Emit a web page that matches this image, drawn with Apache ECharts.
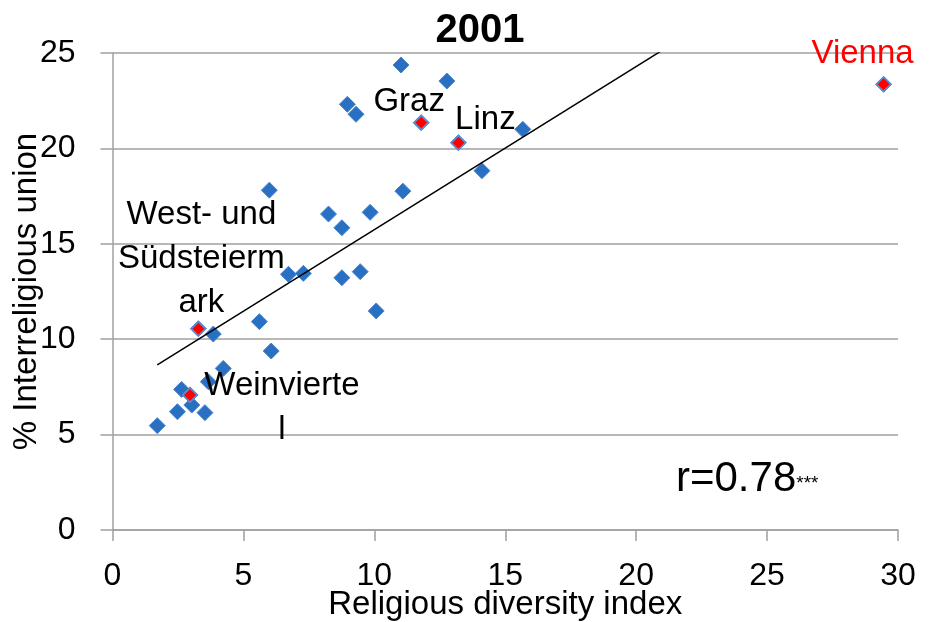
<!DOCTYPE html>
<html>
<head>
<meta charset="utf-8">
<script src="https://cdn.jsdelivr.net/npm/echarts@6/dist/echarts.min.js"></script>
<style>
  html, body { margin: 0; padding: 0; background: #fff; }
  #main { width: 934px; height: 622px; }
</style>
</head>
<body>
<div id="main"></div>
<script>
  // districts (blue diamonds)
  var diversity = [1.71, 2.48, 3.53, 3.03, 2.64, 3.66, 4.23, 3.85, 5.61, 6.06, 6.72, 7.29, 8.76,
                   9.46, 10.07, 8.76, 11.02, 12.77, 8.97, 9.30, 15.67, 14.11, 11.09, 5.99, 9.84, 8.25];
  var interUnion = [5.47, 6.20, 6.15, 6.55, 7.37, 7.77, 8.47, 10.27, 10.92, 9.38, 13.40, 13.45, 13.22,
                    13.54, 11.48, 15.84, 24.37, 23.53, 22.31, 21.79, 21.00, 18.83, 17.76, 17.81, 16.65, 16.56];

  // named places (red diamonds)
  var placeNames = ['Weinvierte\nl', 'West- und\nSüdsteierm\nark', 'Graz', 'Linz', 'Vienna'];
  var placeDiversity = [2.96, 3.28, 11.79, 13.21, 29.45];
  var placeUnion = [7.08, 10.55, 21.35, 20.30, 23.36];

  // linear trend
  var trendSlope = 0.855;
  var trendIntercept = 7.19;

  var xTicks = [0, 5, 10, 15, 20, 25, 30];
  var yTicks = [0, 5, 10, 15, 20, 25];

  var FONT = '"Liberation Sans", Arial, sans-serif';
  var BLUE = '#2a70c2';
  var GREY = '#a0a0a0';

  var labelOffsets = [[92, 13], [3, -70], [-12, -21], [27, -23], [-21, -30]];
  var labelColors = ['#000000', '#000000', '#000000', '#000000', '#ff0000'];

  var allX = diversity.concat(placeDiversity);
  var allY = interUnion.concat(placeUnion);

  var bluePts = [];
  for (var i = 0; i < allX.length; i++) {
    bluePts.push([allX[i], allY[i]]);
  }

  var redPts = [];
  for (var j = 0; j < placeNames.length; j++) {
    redPts.push({
      name: placeNames[j],
      value: [placeDiversity[j], placeUnion[j]],
      label: {
        show: true,
        position: 'inside',
        offset: labelOffsets[j],
        color: labelColors[j],
        textBorderWidth: 0,
        opacity: 1,
        formatter: '{b}'
      }
    });
  }

  var xMin = Math.min.apply(null, allX);
  var xMax = Math.max.apply(null, allX);
  var trendPts = [
    [xMin, trendIntercept + trendSlope * xMin],
    [xMax, trendIntercept + trendSlope * xMax]
  ];

  var myChart = echarts.init(document.getElementById('main'));
  myChart.setOption({
    animation: false,
    backgroundColor: '#fff',
    textStyle: { fontFamily: FONT },
    title: {
      text: '2001',
      left: 475,
      textAlign: 'center',
      top: 6,
      textStyle: { fontFamily: FONT, fontSize: 40, fontWeight: 'bold', color: '#000' }
    },
    grid: { left: 112.5, right: 36, top: 53, bottom: 92, containLabel: false, outerBoundsMode: 'none' },
    xAxis: {
      type: 'value',
      min: xTicks[0],
      max: xTicks[xTicks.length - 1],
      interval: 5,
      name: 'Religious diversity index',
      nameLocation: 'middle',
      nameGap: 58,
      nameMoveOverlap: false,
      nameTextStyle: { fontFamily: FONT, fontSize: 33, color: '#000' },
      axisLine: { show: true, lineStyle: { color: GREY, width: 1.5 } },
      axisTick: { show: true, length: 11, lineStyle: { color: GREY, width: 1.5 } },
      axisLabel: { margin: 30, fontSize: 32, color: '#000', fontFamily: FONT },
      splitLine: { show: false }
    },
    yAxis: {
      type: 'value',
      min: yTicks[0],
      max: yTicks[yTicks.length - 1],
      interval: 5,
      name: '% Interreligious union',
      nameLocation: 'middle',
      nameGap: 69,
      nameMoveOverlap: false,
      nameTextStyle: { fontFamily: FONT, fontSize: 33, color: '#000' },
      axisLine: { show: true, lineStyle: { color: GREY, width: 1.5 } },
      axisTick: { show: true, length: 12, lineStyle: { color: GREY, width: 1.5 } },
      axisLabel: { margin: 37, fontSize: 32, color: '#000', fontFamily: FONT },
      splitLine: { show: true, lineStyle: { color: GREY, width: 1.5 } }
    },
    series: [
      {
        name: 'districts',
        type: 'scatter',
        symbol: 'diamond',
        symbolSize: 16,
        itemStyle: { color: BLUE, borderColor: '#4a86cc', borderWidth: 1, opacity: 1 },
        data: bluePts,
        z: 2
      },
      {
        name: 'places',
        type: 'scatter',
        symbol: 'diamond',
        symbolSize: 14,
        itemStyle: { color: '#ff0000', borderColor: '#5a8fd0', borderWidth: 1.5, opacity: 1 },
        label: { fontFamily: FONT, fontSize: 33, lineHeight: 44, align: 'center', verticalAlign: 'middle' },
        data: redPts,
        z: 3
      },
      {
        name: 'trend',
        type: 'line',
        symbol: 'none',
        silent: true,
        clip: true,
        lineStyle: { color: '#000', width: 1.5 },
        data: trendPts,
        z: 4
      }
    ],
    graphic: [
      {
        type: 'text',
        left: 676,
        top: 458,
        style: {
          text: '{a|r=0.78}{b|***}',
          rich: {
            a: { fontFamily: FONT, fontSize: 42, color: '#000' },
            b: { fontFamily: FONT, fontSize: 19, color: '#000', padding: [10, 0, 0, 0] }
          }
        }
      }
    ]
  });
</script>
</body>
</html>
